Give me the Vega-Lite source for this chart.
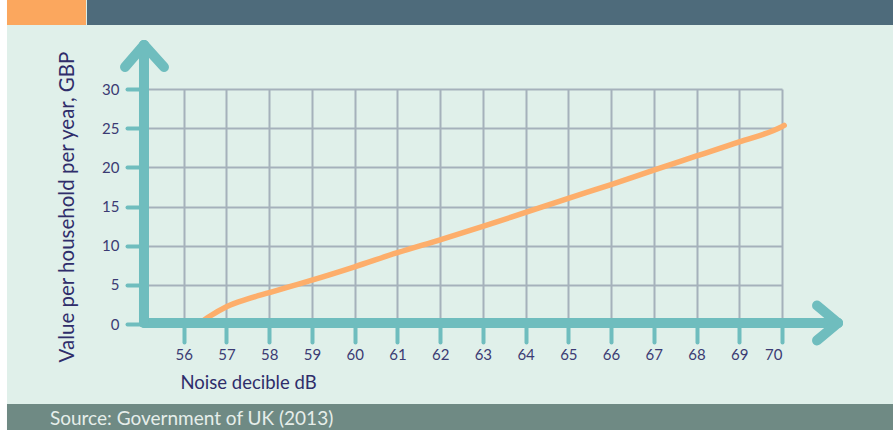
{
  "$schema": "https://vega.github.io/schema/vega-lite/v6.json",
  "width": 641,
  "height": 235,
  "autosize": {"type": "none"},
  "padding": {"left": 141, "top": 89, "right": 111, "bottom": 106},
  "background": "#e0f0ea",
  "config": {
    "view": {"stroke": null},
    "font": "Lato",
    "axis": {"labelFont": "Lato", "titleFont": "Lato"}
  },
  "resolve": {"axis": {"x": "independent", "y": "independent"}},
  "data": {"values": [{}]},
  "datasets": {
    "noise": [
      {"db": 56.35, "value": 0},
      {"db": 56.6, "value": 0.95},
      {"db": 57, "value": 2.2},
      {"db": 57.5, "value": 3.2},
      {"db": 58, "value": 4.0},
      {"db": 58.5, "value": 4.8},
      {"db": 59, "value": 5.6},
      {"db": 60, "value": 7.3},
      {"db": 61, "value": 9.1},
      {"db": 62, "value": 10.75},
      {"db": 63, "value": 12.45},
      {"db": 64, "value": 14.25},
      {"db": 65, "value": 16.05},
      {"db": 66, "value": 17.8},
      {"db": 67, "value": 19.65},
      {"db": 68, "value": 21.45},
      {"db": 69, "value": 23.25},
      {"db": 70, "value": 25.2},
      {"db": 70.05, "value": 25.35}
    ]
  },
  "layer": [
    {
      "data": {"name": "noise"},
      "mark": {"type": "line", "stroke": "#fdae6b", "strokeWidth": 5.5, "strokeCap": "round", "interpolate": "monotone"},
      "encoding": {
        "x": {
          "field": "db", "type": "quantitative",
          "scale": {"domain": [55, 70], "nice": false, "zero": false},
          "axis": {
            "values": [56, 57, 58, 59, 60, 61, 62, 63, 64, 65, 66, 67, 68, 69, 70],
            "title": "Noise decible dB",
            "titleFontSize": 18.5, "titleFontWeight": "normal", "titleColor": "#2f2d6a",
            "titleAnchor": "start", "titleAlign": "left", "titleX": 39, "titleY": 58, "titleBaseline": "middle",
            "domain": false,
            "ticks": true, "tickSize": 18, "tickWidth": 4, "tickColor": "#6fbdbe", "tickCap": "round",
            "labelFontSize": 15, "labelColor": "#3b3b73", "labelPadding": 5,
            "grid": true, "gridColor": "#a5b1bb", "gridWidth": 2
          }
        },
        "y": {
          "field": "value", "type": "quantitative",
          "scale": {"domain": [0, 30], "nice": false, "zero": false},
          "axis": {
            "values": [0, 5, 10, 15, 20, 25, 30],
            "title": "Value per household per year, GBP",
            "titleFontSize": 20.5, "titleFontWeight": "normal", "titleColor": "#2f2d6a", "titlePadding": 24,
            "domain": false,
            "ticks": true, "tickSize": 14, "tickWidth": 4, "tickColor": "#6fbdbe", "tickCap": "round",
            "labelFontSize": 15, "labelColor": "#3b3b73", "labelPadding": 8, "labelOverlap": false,
            "grid": true, "gridColor": "#a5b1bb", "gridWidth": 2
          }
        }
      }
    },
    {
      "mark": {"type": "rect", "fill": "#ffffff"},
      "encoding": {
        "x": {"datum": 51.6, "type": "quantitative", "axis": null},
        "x2": {"datum": 51.864},
        "y": {"datum": 41.5, "type": "quantitative", "axis": null},
        "y2": {"datum": -13.6}
      }
    },
    {
      "mark": {"type": "rect", "fill": "#fba75e"},
      "encoding": {
        "x": {"datum": 51.864, "type": "quantitative", "axis": null},
        "x2": {"datum": 53.713},
        "y": {"datum": 41.5, "type": "quantitative", "axis": null},
        "y2": {"datum": 38.17}
      }
    },
    {
      "mark": {"type": "rect", "fill": "#4e6b7b"},
      "encoding": {
        "x": {"datum": 53.736, "type": "quantitative", "axis": null},
        "x2": {"datum": 72.7},
        "y": {"datum": 41.5, "type": "quantitative", "axis": null},
        "y2": {"datum": 38.17}
      }
    },
    {
      "mark": {"type": "rect", "fill": "#6f8a84"},
      "encoding": {
        "x": {"datum": 51.864, "type": "quantitative", "axis": null},
        "x2": {"datum": 72.7},
        "y": {"datum": -10.213, "type": "quantitative", "axis": null},
        "y2": {"datum": -13.6}
      }
    },
    {
      "mark": {"type": "text", "text": "Source: Government of UK (2013)", "align": "left", "baseline": "middle", "fontSize": 19, "color": "#e6eeea", "font": "Lato"},
      "encoding": {
        "x": {"datum": 52.87, "type": "quantitative", "axis": null},
        "y": {"datum": -12.1, "type": "quantitative", "axis": null}
      }
    },
    {
      "mark": {"type": "rule", "stroke": "#6fbdbe", "strokeWidth": 10, "strokeCap": "round"},
      "encoding": {
        "x": {"datum": 55.07, "type": "quantitative", "axis": null},
        "x2": {"datum": 71.31},
        "y": {"datum": 0.13, "type": "quantitative", "axis": null},
        "y2": {"datum": 0.13}
      }
    },
    {
      "mark": {"type": "rule", "stroke": "#6fbdbe", "strokeWidth": 10, "strokeCap": "round"},
      "encoding": {
        "x": {"datum": 55.07, "type": "quantitative", "axis": null},
        "x2": {"datum": 55.07},
        "y": {"datum": 0.13, "type": "quantitative", "axis": null},
        "y2": {"datum": 35.62}
      }
    },
    {
      "mark": {"type": "rule", "stroke": "#6fbdbe", "strokeWidth": 10, "strokeCap": "round"},
      "encoding": {
        "x": {"datum": 70.82, "type": "quantitative", "axis": null},
        "x2": {"datum": 71.31},
        "y": {"datum": 2.36, "type": "quantitative", "axis": null},
        "y2": {"datum": 0.13}
      }
    },
    {
      "mark": {"type": "rule", "stroke": "#6fbdbe", "strokeWidth": 10, "strokeCap": "round"},
      "encoding": {
        "x": {"datum": 70.82, "type": "quantitative", "axis": null},
        "x2": {"datum": 71.31},
        "y": {"datum": -2.1, "type": "quantitative", "axis": null},
        "y2": {"datum": 0.13}
      }
    },
    {
      "mark": {"type": "rule", "stroke": "#6fbdbe", "strokeWidth": 10, "strokeCap": "round"},
      "encoding": {
        "x": {"datum": 54.626, "type": "quantitative", "axis": null},
        "x2": {"datum": 55.07},
        "y": {"datum": 32.81, "type": "quantitative", "axis": null},
        "y2": {"datum": 35.62}
      }
    },
    {
      "mark": {"type": "rule", "stroke": "#6fbdbe", "strokeWidth": 10, "strokeCap": "round"},
      "encoding": {
        "x": {"datum": 55.538, "type": "quantitative", "axis": null},
        "x2": {"datum": 55.07},
        "y": {"datum": 32.81, "type": "quantitative", "axis": null},
        "y2": {"datum": 35.62}
      }
    }
  ]
}
